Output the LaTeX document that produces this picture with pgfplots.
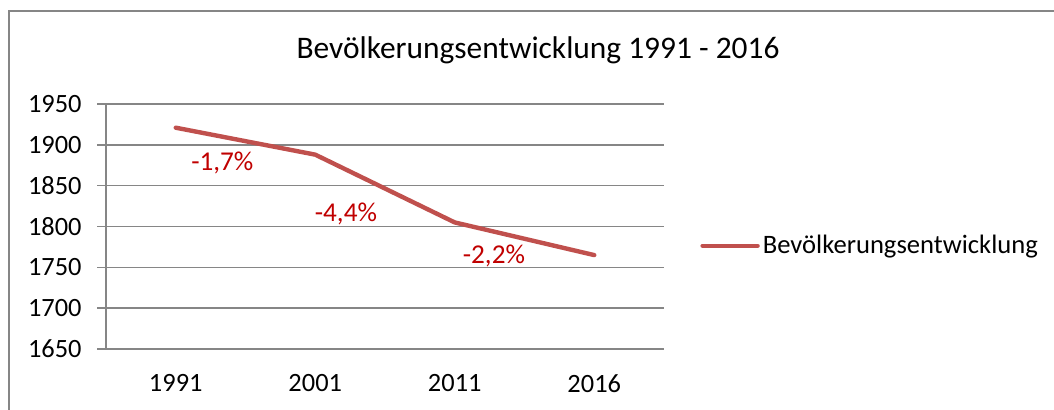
\documentclass[border=0pt]{standalone}
\usepackage{pgfplots}
\pgfplotsset{compat=1.18}
\usepackage{fontspec}
\setmainfont{Carlito}
\definecolor{linered}{RGB}{192,80,77}
\definecolor{labelred}{RGB}{192,0,0}
\definecolor{gridgray}{RGB}{134,134,134}
\begin{document}
\begin{tikzpicture}
\useasboundingbox (0,0) rectangle (527pt,-204.5pt);
\draw[gridgray, line width=1.25pt] (4.5pt,-230pt) -- (4.5pt,-5.5pt) -- (560pt,-5.5pt);
\node[font=\fontsize{15.7pt}{18pt}\selectfont] at (269pt,-25pt) {Bevölkerungsentwicklung 1991 - 2016};
\begin{axis}[
  at={(53pt,-174.5pt)}, anchor=south west,
  scale only axis, width=279pt, height=122.5pt,
  xmin=-0.5, xmax=3.5, ymin=1650, ymax=1950,
  axis x line=bottom, axis y line=left,
  axis line style={gridgray, line width=0.75pt, -},
  xtick={0,1,2,3}, xticklabels={1991,2001,2011,2016},
  minor xtick={-0.5,0.5,1.5,2.5,3.5},
  ytick={1650,1700,...,1950},
  tick align=outside,
  major tick length=4.5pt, minor tick length=4.5pt,
  xtick style={draw=none},
  minor tick style={gridgray, line width=0.75pt},
  ytick style={gridgray, line width=0.75pt},
  ymajorgrids, grid style={gridgray, line width=0.75pt},
  /pgf/number format/assume math mode=true,
  yticklabel={\pgfmathprintnumber[1000 sep={}]{\tick}},
  tick label style={font=\fontsize{13.2pt}{15pt}\selectfont, text=black},
  yticklabel style={inner sep=0pt, xshift=-7.5pt},
  xticklabel style={inner sep=0pt, yshift=-8pt},
  legend style={at={(1.0645,0.4216)}, anchor=west, draw=none, fill=none,
    inner sep=0pt, column sep=0pt,
    nodes={inner sep=1.5pt, font=\fontsize{13.3pt}{15pt}\selectfont}},
  legend image code/.code={\draw[#1, line width=2.2pt, line cap=round] (0pt,0pt) -- (27.5pt,0pt);},
  clip=false,
]
\addplot[linered, line width=2.2pt, line join=round, line cap=round] coordinates {
  (0,1921) (1,1888) (2,1805) (3,1765)
};
\addlegendentry{Bevölkerungsentwicklung}
\node[anchor=base, text=labelred, font=\fontsize{13.6pt}{15pt}\selectfont] at (axis cs:0.334,1869.2) {-1,7\%};
\node[anchor=base, text=labelred, font=\fontsize{13.6pt}{15pt}\selectfont] at (axis cs:1.220,1805.9) {-4,4\%};
\node[anchor=base, text=labelred, font=\fontsize{13.6pt}{15pt}\selectfont] at (axis cs:2.281,1754.7) {-2,2\%};
\end{axis}
\end{tikzpicture}
\end{document}
